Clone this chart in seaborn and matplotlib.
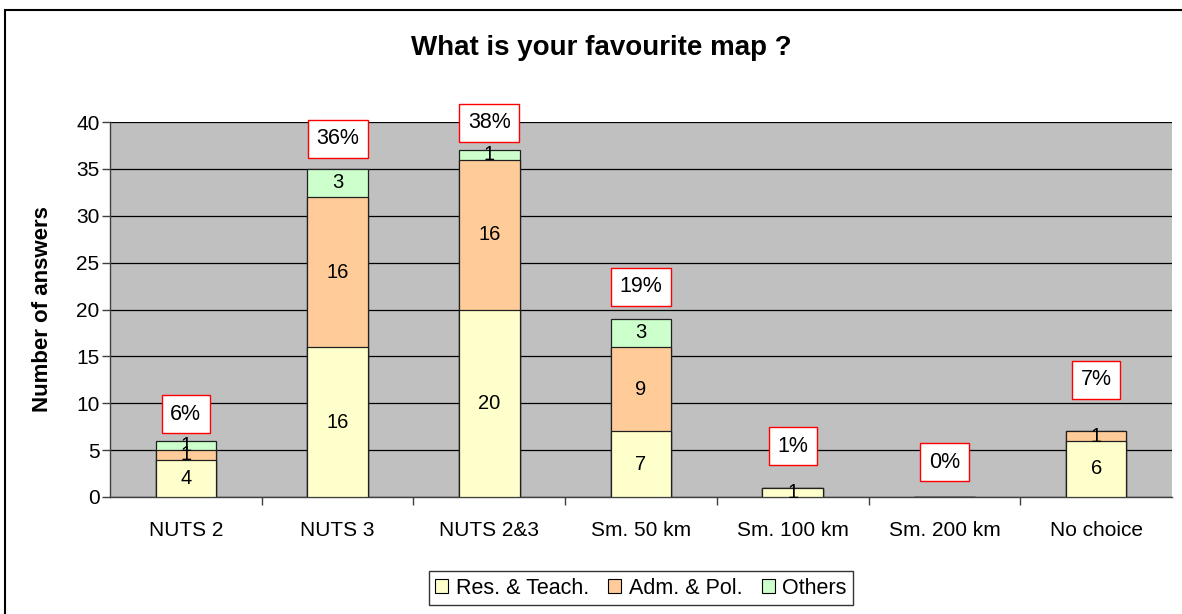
import numpy as np
import pandas as pd
import matplotlib
matplotlib.use("Agg")
import matplotlib.pyplot as plt
from matplotlib.patches import Rectangle, Patch
from matplotlib.ticker import FixedLocator, MultipleLocator
import seaborn as sns

categories = ["NUTS 2", "NUTS 3", "NUTS 2&3", "Sm. 50 km", "Sm. 100 km", "Sm. 200 km", "No choice"]
res_teach = [4, 16, 20, 7, 1, 0, 6]
adm_pol = [1, 16, 16, 9, 0, 0, 1]
others = [1, 3, 1, 3, 0, 0, 0]
percent_labels = ["6%", "36%", "38%", "19%", "1%", "0%", "7%"]
series_names = ["Res. & Teach.", "Adm. & Pol.", "Others"]

# heights (in data units) of the percentage call-out boxes
callout_y = [8.85, 38.2, 39.9, 22.4, 5.4, 3.7, 12.5]

colors = ["#FFFFCC", "#FFCC99", "#CCFFCC"]

sns.set_theme(style="white")
plt.rcParams["font.family"] = ["Liberation Sans", "DejaVu Sans"]
plt.rcParams.update({"text.color": "black", "axes.labelcolor": "black",
                     "xtick.color": "black", "ytick.color": "black"})

fig = plt.figure(figsize=(11.82, 6.14), dpi=100)
ax = fig.add_axes([110 / 1182, 1 - 497 / 614, 1062 / 1182, 375 / 614])
ax.set_facecolor("#C0C0C0")

df = pd.DataFrame({"cat": categories, "res": res_teach, "adm": adm_pol, "oth": others})
df["cum1"] = df["res"]
df["cum2"] = df["res"] + df["adm"]
df["cum3"] = df["cum2"] + df["oth"]

# stacked bars: draw cumulative totals from the top segment down
for col, color in zip(["cum3", "cum2", "cum1"], colors[::-1]):
    sns.barplot(data=df, x="cat", y=col, color=color, width=0.4,
                edgecolor="#202020", linewidth=0.9, saturation=1, ax=ax,
                order=categories, zorder=3)

# segment value labels
for i in range(len(categories)):
    base = 0
    for vals in (res_teach, adm_pol, others):
        v = vals[i]
        if v > 0:
            ax.text(i, base + v / 2, str(v), ha="center", va="center",
                    fontsize=14.5, color="black", zorder=5)
        base += v

# percentage call-outs
for i, (lab, y) in enumerate(zip(percent_labels, callout_y)):
    ax.text(i, y, lab, ha="center", va="center", fontsize=15.5, color="black",
            zorder=6, clip_on=False,
            bbox=dict(boxstyle="square,pad=0.4", facecolor="white",
                      edgecolor="#FF0000", linewidth=1))

ax.set_ylim(0, 40)
ax.set_xlim(-0.5, len(categories) - 0.5)
ax.yaxis.set_major_locator(MultipleLocator(5))
ax.grid(axis="y", color="black", linewidth=0.9, zorder=0)
ax.set_axisbelow(True)

for side in ("top", "right"):
    ax.spines[side].set_visible(False)
for side in ("left", "bottom"):
    ax.spines[side].set_visible(True)
    ax.spines[side].set_color("#404040")
    ax.spines[side].set_linewidth(1)

ax.set_xlabel("")
ax.set_ylabel("Number of answers", fontsize=16, fontweight="bold")
ax.yaxis.set_label_coords(-57 / 1062, 0.5)
ax.tick_params(axis="y", which="major", left=True, length=6, width=1,
               color="#404040", labelsize=15, pad=1.5, direction="out")
ax.tick_params(axis="x", which="major", bottom=False, length=0, labelsize=15, pad=17)
ax.xaxis.set_minor_locator(FixedLocator(np.arange(0.5, len(categories) - 1, 1.0)))
ax.tick_params(axis="x", which="minor", bottom=True, length=6, width=1,
               color="#404040", direction="out")

fig.text(601 / 1182, 1 - 48 / 614, "What is your favourite map ?", ha="center",
         va="center", fontsize=20, fontweight="bold")

handles = [Patch(facecolor=c, edgecolor="black", linewidth=0.8) for c in colors]
leg = fig.legend(handles, series_names, loc="center",
                 bbox_to_anchor=(641 / 1182, 1 - 588 / 614), ncol=3,
                 fontsize=15.5, frameon=True, fancybox=False,
                 handlelength=0.6, handleheight=0.6, handletextpad=0.35,
                 columnspacing=0.9, borderpad=0.3, borderaxespad=0)
leg.get_frame().set_edgecolor("black")
leg.get_frame().set_linewidth(1)

# outer chart border
fig.patches.append(Rectangle((5 / 1182, -0.1), 1.2, 1 - 10 / 614 + 0.1,
                             transform=fig.transFigure, fill=False,
                             edgecolor="black", linewidth=1.5))

fig.savefig("out.png", dpi=100)
